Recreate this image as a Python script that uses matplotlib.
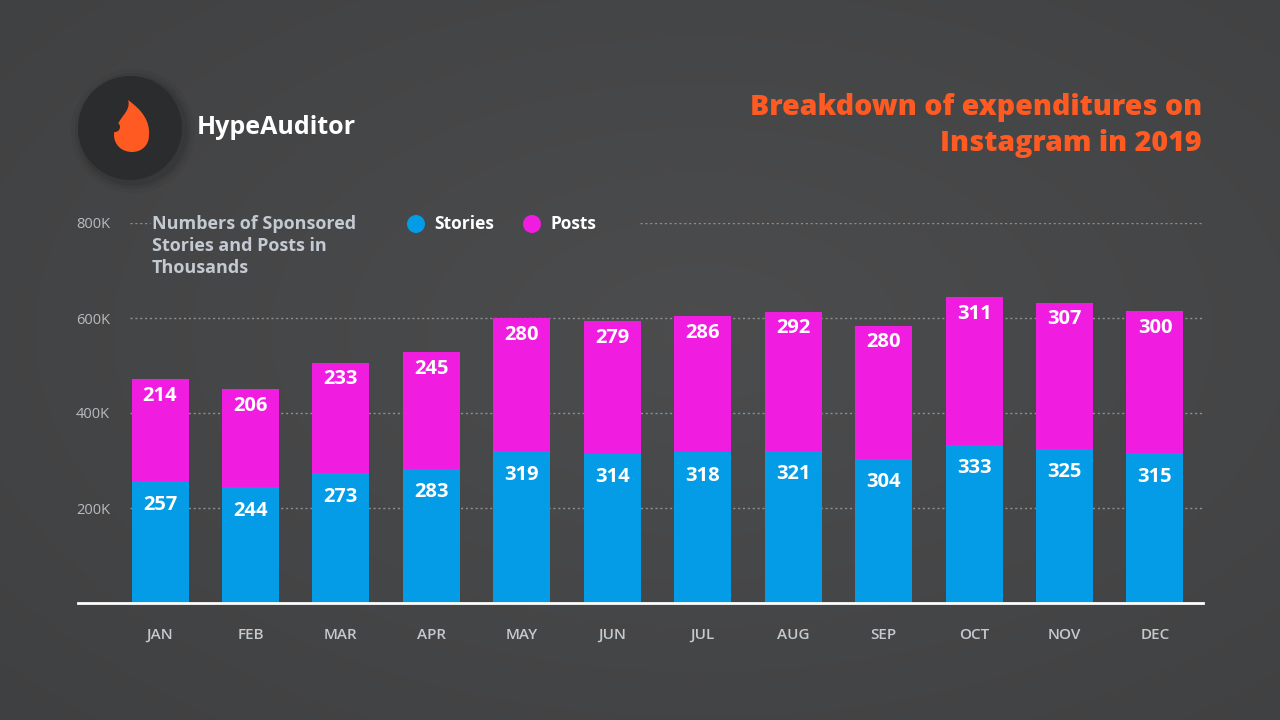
import numpy as np
import matplotlib
matplotlib.use("Agg")
import matplotlib.pyplot as plt
from matplotlib.patches import Circle, PathPatch
from matplotlib.path import Path

months = ["JAN", "FEB", "MAR", "APR", "MAY", "JUN", "JUL", "AUG", "SEP", "OCT", "NOV", "DEC"]
stories = [257, 244, 273, 283, 319, 314, 318, 321, 304, 333, 325, 315]
posts = [214, 206, 233, 245, 280, 279, 286, 292, 280, 311, 307, 300]
yticks = [200, 400, 600, 800]
ytick_labels = ["200K", "400K", "600K", "800K"]

BLUE = "#049ce6"
MAGENTA = "#f01de1"
ORANGE = "#ff5a22"
FONT = "Open Sans"

W, H = 1280, 720
fig = plt.figure(figsize=(12.8, 7.2), dpi=100)

# background with soft gradient
bg = fig.add_axes([0, 0, 1, 1])
bg.set_xlim(0, W)
bg.set_ylim(H, 0)
bg.axis("off")
yy, xx = np.mgrid[0:H:4, 0:W:4]
d = np.sqrt(((xx - 700) / 900.0) ** 2 + ((yy - 330) / 520.0) ** 2)
shade = np.clip(0.30 - 0.045 * d, 0.24, 0.30)
img = np.dstack([shade - 0.003, shade, shade + 0.004])
bg.imshow(img, extent=[0, W, H, 0], aspect="auto", interpolation="bilinear", zorder=0)

# logo
for r, a in [(62, 0.04), (58, 0.06), (55, 0.08)]:
    bg.add_patch(Circle((133, 131), r, color="black", alpha=a, lw=0, zorder=1))
bg.add_patch(Circle((130, 128), 52, color="#2b2c2e", lw=0, zorder=2))
flame = Path(
    [(128, 100), (142, 110), (150, 121), (149, 135),
     (149, 146), (141, 152), (132, 152),
     (122, 152), (114, 145), (114, 135),
     (114, 128), (119, 122), (123, 116),
     (127, 111), (130, 106), (128, 100)],
    [Path.MOVETO, Path.CURVE4, Path.CURVE4, Path.CURVE4,
     Path.CURVE4, Path.CURVE4, Path.CURVE4,
     Path.CURVE4, Path.CURVE4, Path.CURVE4,
     Path.CURVE4, Path.CURVE4, Path.CURVE4,
     Path.CURVE4, Path.CURVE4, Path.CURVE4])
bg.add_patch(PathPatch(flame, facecolor=ORANGE, lw=0, zorder=3))
bg.add_patch(Circle((115, 127), 5, color="#2b2c2e", lw=0, zorder=4))
bg.text(197, 128, "HypeAuditor", color="white", fontsize=18, fontweight="bold",
        family=FONT, va="center", ha="left", zorder=5)

# title
bg.text(1202, 108, "Breakdown of expenditures on", color=ORANGE, fontsize=20.5,
        fontweight="heavy", family=FONT, ha="right", va="center")
bg.text(1202, 143, "Instagram in 2019", color=ORANGE, fontsize=20.5,
        fontweight="heavy", family=FONT, ha="right", va="center")

# subtitle
for i, line in enumerate(["Numbers of Sponsored", "Stories and Posts in", "Thousands"]):
    bg.text(152, 224 + i * 22, line, color="#c4cad2", fontsize=13, fontweight="bold",
            family=FONT, ha="left", va="center")

# legend
bg.add_patch(Circle((416, 224), 9, color=BLUE, lw=0))
bg.text(434, 224, "Stories", color="white", fontsize=12.5, fontweight="bold",
        family=FONT, ha="left", va="center")
bg.add_patch(Circle((532, 224), 9, color=MAGENTA, lw=0))
bg.text(551, 224, "Posts", color="white", fontsize=12.5, fontweight="bold",
        family=FONT, ha="left", va="center")

# chart
left, right, base, top = 78, 1203, 603, 223
ax = fig.add_axes([left / W, 1 - base / H, (right - left) / W, (base - top) / H])
ax.patch.set_alpha(0)
x = np.arange(len(months))
span = 90.45
ax.set_xlim(-(160 - left) / span, 11 + (right - 1155) / span)
ax.set_ylim(0, 800)

gx0 = (130 - left) / (right - left)
for v in yticks:
    if v == 800:
        ax.axhline(v, xmin=gx0, xmax=(150 - left) / (right - left), color="#8d8f92",
                   lw=1, ls=(0, (1.5, 2)), zorder=1)
        ax.axhline(v, xmin=(640 - left) / (right - left), xmax=1, color="#8d8f92",
                   lw=1, ls=(0, (1.5, 2)), zorder=1)
    else:
        ax.axhline(v, xmin=gx0, xmax=1, color="#8d8f92", lw=1, ls=(0, (1.5, 2)), zorder=1)

bw = 57 / span
ax.bar(x, stories, width=bw, color=BLUE, zorder=2)
ax.bar(x, posts, bottom=stories, width=bw, color=MAGENTA, zorder=2)

for xi, s, p in zip(x, stories, posts):
    ax.annotate(str(s), (xi, s), xytext=(0, -17), textcoords="offset points",
                ha="center", va="center", color="white", fontsize=14.5,
                fontweight="bold", family=FONT, zorder=3)
    ax.annotate(str(p), (xi, s + p), xytext=(0, -12), textcoords="offset points",
                ha="center", va="center", color="white", fontsize=14.5,
                fontweight="bold", family=FONT, zorder=3)

for sp in ["top", "right", "left"]:
    ax.spines[sp].set_visible(False)
ax.spines["bottom"].set_color("white")
ax.spines["bottom"].set_linewidth(2)
ax.spines["bottom"].set_zorder(4)

ax.set_yticks(yticks, ytick_labels)
ax.set_xticks(x, months)
ax.tick_params(axis="y", length=0, pad=-23, labelsize=10.5, labelcolor="#b8bbbf")
ax.tick_params(axis="x", length=0, pad=18, labelsize=11, labelcolor="#c6c9cd")
for t in ax.get_xticklabels():
    t.set_fontweight("semibold")
    t.set_family(FONT)
for t in ax.get_yticklabels():
    t.set_family(FONT)

fig.savefig("out.png", dpi=100)
